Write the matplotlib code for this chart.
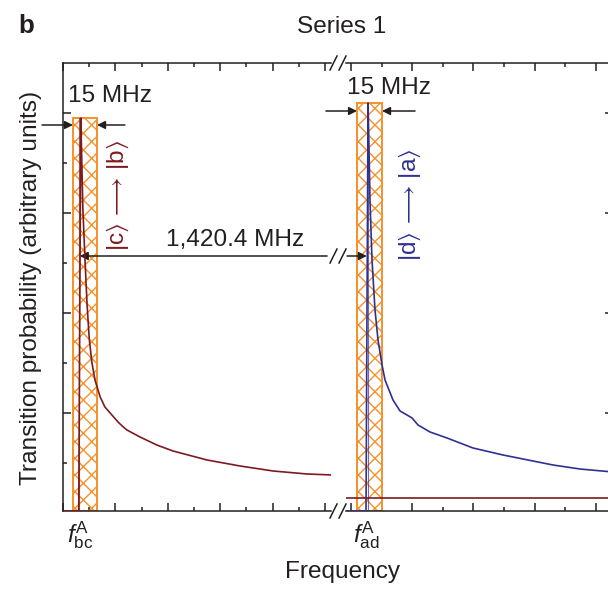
import matplotlib
matplotlib.use("Agg")
import matplotlib.pyplot as plt
from matplotlib.patches import Rectangle
from matplotlib.lines import Line2D

plt.rcParams['font.family'] = ['Liberation Sans', 'DejaVu Sans']
plt.rcParams['mathtext.fontset'] = 'custom'
plt.rcParams['mathtext.rm'] = 'Liberation Sans'
plt.rcParams['mathtext.it'] = 'Liberation Sans:italic'
plt.rcParams['mathtext.bf'] = 'Liberation Sans:bold'
plt.rcParams['mathtext.fallback'] = 'stixsans'
plt.rcParams['hatch.linewidth'] = 1.0

# ---- data (axis units; left panel around f_bc, right panel around f_ad) ----
bc_x = [0.00, 0.30, 0.34, 0.36, 0.38, 0.42, 0.46, 0.50, 0.55, 0.61, 0.71, 0.80,
        0.90, 1.00, 1.05, 1.13, 1.22, 1.47, 1.79, 2.10, 2.75, 3.38, 4.01, 4.66, 5.15]
bc_y = [0.02, 0.02, 3.95, 3.48, 3.03, 2.53, 2.08, 1.75, 1.51, 1.33, 1.16, 1.06,
        1.00, 0.94, 0.91, 0.87, 0.83, 0.76, 0.68, 0.62, 0.53, 0.47, 0.42, 0.39, 0.38]

ad_x = [-0.08, 0.245, 0.278, 0.294, 0.31, 0.343, 0.392, 0.441, 0.507, 0.556, 0.686,
        0.801, 0.915, 0.997, 1.095, 1.291, 1.569, 1.993, 2.484, 2.974, 3.301, 3.742, 4.281]
ad_y = [0.02, 0.02, 4.10, 3.63, 3.13, 2.53, 2.03, 1.73, 1.48, 1.33, 1.13,
        1.02, 0.98, 0.95, 0.88, 0.81, 0.75, 0.65, 0.58, 0.52, 0.48, 0.44, 0.41]

# far tail of the c->b line seen across the gap
bc_tail_x = [-0.08, 4.281]
bc_tail_y = [0.15, 0.15]

f_bc = 0.34
f_ad = 0.278
bc_window = (0.19, 0.65)     # 15 MHz window
ad_window = (0.098, 0.507)   # 15 MHz window
bc_peak = 3.95
ad_peak = 4.10

window_label = "15 MHz"
split_label = "1,420.4 MHz"
bc_label = r"$|\mathrm{c}\rangle \, \longrightarrow \, |\mathrm{b}\rangle$"
ad_label = r"$|\mathrm{d}\rangle \, \longrightarrow \, |\mathrm{a}\rangle$"

# ---- styling ----
RED = '#7d1a1f'
BLUE = '#2e3192'
ORANGE = '#f7902a'
INK = '#231f20'
FS = 17.6

W, H = 608, 589
fig = plt.figure(figsize=(W / 100, H / 100), dpi=100)


def fx(px):
    return px / W


def fy(py):
    return 1 - py / H


bottom, top = 511, 63
axL = fig.add_axes([fx(63), fy(bottom), fx(331) - fx(63), fy(top) - fy(bottom)])
axR = fig.add_axes([fx(346), fy(bottom), fx(613) - fx(346), fy(top) - fy(bottom)])

for ax in (axL, axR):
    ax.set_yticks([1, 2, 3, 4])
    ax.set_yticks([0.5, 1.5, 2.5, 3.5], minor=True)
    ax.set_xticks(range(0, 6))
    ax.set_xticks([i + 0.5 for i in range(0, 5)], minor=True)
    ax.set_ylim(0.02, 4.5)
    ax.tick_params(which='both', direction='in', top=True, bottom=True,
                   labelbottom=False, labelleft=False, labelright=False,
                   color=INK, width=1.1)
    ax.tick_params(which='major', length=6)
    ax.tick_params(which='minor', length=3)
    for s in ax.spines.values():
        s.set_linewidth(1.1)
        s.set_color(INK)

axL.set_xlim(0, 5.115)
axR.set_xlim(-0.082, 4.281)

axL.spines['right'].set_visible(False)
axL.tick_params(which='both', left=True, right=False)
axR.spines['left'].set_visible(False)
axR.tick_params(which='both', left=False, right=True)

# windows
for ax, (a, b), pk in ((axL, bc_window, bc_peak), (axR, ad_window, ad_peak)):
    ax.add_patch(Rectangle((a, 0.02), b - a, pk - 0.02, facecolor='none',
                           edgecolor=ORANGE, hatch='xx', linewidth=1.4, zorder=2))

# resonance markers and spectra
axL.plot([f_bc - 0.03, f_bc - 0.03], [0.02, bc_peak], color=RED, lw=0.8, alpha=0.7, zorder=3)
axL.plot(bc_x, bc_y, color=RED, lw=1.2, zorder=4)
axR.plot(bc_tail_x, bc_tail_y, color=RED, lw=1.2, zorder=4)
axR.plot([f_ad, f_ad], [0.02, ad_peak], color=BLUE, lw=0.8, alpha=0.7, zorder=3)
axR.plot(ad_x, ad_y, color=BLUE, lw=1.2, zorder=4)

arrow = dict(arrowstyle='-|>', color=INK, lw=1.1, mutation_scale=12, shrinkA=0, shrinkB=0)

# 15 MHz window markers
axL.annotate('', xy=(bc_window[0], 3.88), xytext=(-0.40, 3.88), arrowprops=arrow,
             annotation_clip=False)
axL.annotate('', xy=(bc_window[1], 3.88), xytext=(1.18, 3.88), arrowprops=arrow,
             annotation_clip=False)
axL.text(0.90, 4.17, window_label, ha='center', va='center', fontsize=FS, color=INK)

axR.annotate('', xy=(ad_window[0], 4.02), xytext=(-0.41, 4.02), arrowprops=arrow,
             annotation_clip=False)
axR.annotate('', xy=(ad_window[1], 4.02), xytext=(1.046, 4.02), arrowprops=arrow,
             annotation_clip=False)
axR.text(0.62, 4.25, window_label, ha='center', va='center', fontsize=FS, color=INK,
         clip_on=False)

# 1,420.4 MHz splitting arrow across the gap
axL.annotate('', xy=(f_bc - 0.02, 2.57), xytext=(5.04, 2.57), arrowprops=arrow,
             annotation_clip=False)
axR.annotate('', xy=(f_ad - 0.02, 2.57), xytext=(-0.065, 2.57), arrowprops=arrow,
             annotation_clip=False)
axL.text(3.28, 2.73, split_label, ha='center', va='center', fontsize=FS, color=INK)

# transition labels
axL.text(1.05, 3.18, bc_label, rotation=90, ha='center', va='center',
         fontsize=FS, color=RED)
axR.text(0.964, 3.08, ad_label, rotation=90, ha='center', va='center',
         fontsize=FS, color=BLUE)

# frequency markers below the axis
axL.text(f_bc - 0.02, -0.22, r'$f^{\rm A}_{\rm bc}$', ha='center', va='center',
         fontsize=FS, color=INK, clip_on=False)
axR.text(f_ad - 0.02, -0.22, r'$f^{\rm A}_{\rm ad}$', ha='center', va='center',
         fontsize=FS, color=INK, clip_on=False)

# break marks on the axis and on the splitting arrow
def slashes(xc, yc, color=INK):
    for dx in (-4.5, 4.5):
        x0 = xc + dx
        fig.add_artist(Line2D([fx(x0 - 3.5), fx(x0 + 3.5)], [fy(yc + 7), fy(yc - 7)],
                              transform=fig.transFigure, color=color, lw=1.1))

slashes(338, 63)
slashes(338, 511)
slashes(338, 256)

fig.text(fx(342), fy(27), 'Series 1', ha='center', va='center', fontsize=FS, color=INK)
fig.text(fx(18), fy(26), 'b', ha='left', va='center', fontsize=FS + 1,
         fontweight='bold', color=INK)
fig.text(fx(31), fy(288), 'Transition probability (arbitrary units)', rotation=90,
         ha='center', va='center', fontsize=FS, color=INK)
fig.text(fx(343), fy(572), 'Frequency', ha='center', va='center', fontsize=FS, color=INK)

fig.savefig('out.png', dpi=100)
